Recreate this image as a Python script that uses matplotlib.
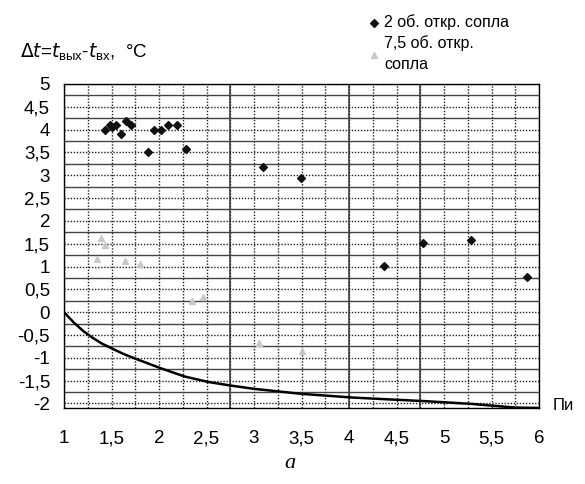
import numpy as np
from matplotlib import pyplot as plt

# 2 turns open nozzle
pi_2 = [1.43, 1.48, 1.51, 1.55, 1.60, 1.65, 1.71, 1.88, 1.95, 2.02, 2.09, 2.19, 2.28,
        3.09, 3.49, 4.37, 4.78, 5.28, 5.87]
dt_2 = [4.0, 4.1, 4.05, 4.1, 3.9, 4.2, 4.1, 3.5, 4.0, 4.0, 4.1, 4.1, 3.58,
        3.18, 2.95, 1.01, 1.51, 1.59, 0.77]

# 7.5 turns open nozzle (faint in the scan)
pi_75 = [1.35, 1.39, 1.43, 1.64, 1.80, 2.35, 2.46, 3.05, 3.50]
dt_75 = [1.17, 1.63, 1.48, 1.12, 1.05, 0.24, 0.33, -0.68, -0.86]

# theoretical curve
pi_c = [1.0, 1.1, 1.2, 1.3, 1.4, 1.51, 1.62, 1.74, 2.02, 2.27, 2.52, 2.76, 3.0, 3.5,
        4.03, 4.31, 4.8, 5.29, 5.57, 5.75, 6.0]
dt_c = [0.0, -0.22, -0.41, -0.56, -0.69, -0.8, -0.91, -1.01, -1.23, -1.41, -1.53,
        -1.61, -1.68, -1.79, -1.87, -1.9, -1.95, -2.01, -2.06, -2.09, -2.1]

xticks = [1, 1.5, 2, 2.5, 3, 3.5, 4, 4.5, 5, 5.5, 6]
yticks = [-2, -1.5, -1, -0.5, 0, 0.5, 1, 1.5, 2, 2.5, 3, 3.5, 4, 4.5, 5]

plt.rcParams['font.family'] = ['Liberation Sans', 'DejaVu Sans']

fig = plt.figure(figsize=(5.85, 4.84), dpi=100)
ax = fig.add_axes([64 / 585, 1 - 408 / 484, 475 / 585, 324 / 484])
ax.set_xlim(1, 6)
ax.set_ylim(-2.1, 5.0)

# grid: dotted at every 0.25, solid lines at odd quarter levels
for v in np.arange(1, 6.01, 0.25):
    ax.axvline(v, color='#222222', lw=1.0, ls=(0, (1, 1.2)), zorder=1)
for v in [2.75, 4.0, 4.75]:
    ax.axvline(v, color='#333333', lw=1.1, zorder=1)
for v in np.arange(-2, 5.01, 0.25):
    if abs(v * 2 - round(v * 2)) < 1e-6:
        ax.axhline(v, color='#222222', lw=1.0, ls=(0, (1, 1.2)), zorder=1)
    else:
        ax.axhline(v, color='#444444', lw=1.0, zorder=1)

ax.plot(pi_c, dt_c, color='black', lw=1.8, zorder=3)
ax.scatter(pi_2, dt_2, marker='D', s=16, color='#111111', zorder=4,
           label='2 об. откр. сопла')
ax.scatter(pi_75, dt_75, marker='^', s=18, color='#c8c8c8', zorder=4,
           label='7,5 об. откр.\nсопла')

ax.set_xticks(xticks)
ax.set_xticklabels([('%g' % t).replace('.', ',') for t in xticks])
ax.set_yticks(yticks)
ax.set_yticklabels([('%g' % t).replace('.', ',') for t in yticks])
ax.tick_params(length=0, labelsize=13.5, pad=10)
ax.tick_params(axis='x', pad=16)
for s in ax.spines.values():
    s.set_linewidth(1.0)

fig.text(20 / 585, 1 - 52 / 484,
         r'$\Delta t$=$t_{\mathregular{вых}}$-$t_{\mathregular{вх}}$,  °C',
         fontsize=13.5, va='center')
fig.text(553 / 585, 1 - 405 / 484, 'Пи', fontsize=12, va='center')
fig.text(290 / 585, 1 - 463 / 484, 'а', fontsize=16, style='italic',
         family='Liberation Serif', va='center', ha='center')

leg = ax.legend(loc='upper left', bbox_to_anchor=(360 / 585, 1 - 6 / 484),
                bbox_transform=fig.transFigure, frameon=False, fontsize=11.5,
                handletextpad=0.2, labelspacing=0.35, handlelength=0.8, borderpad=0)
for t in leg.get_texts():
    t.set_linespacing(1.45)

fig.savefig('out.png', dpi=100)
